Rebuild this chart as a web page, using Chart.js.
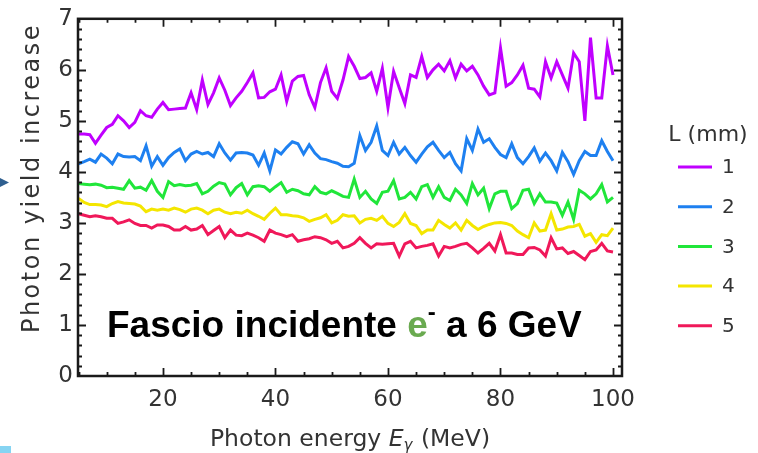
<!DOCTYPE html>
<html>
<head>
<meta charset="utf-8">
<script src="https://cdn.jsdelivr.net/npm/chart.js@4.4.1/dist/chart.umd.min.js"></script>
<style>
  html, body { margin: 0; padding: 0; background: #fff; }
  #wrap { width: 758px; height: 453px; position: relative; }
</style>
</head>
<body>
<div id="wrap"><canvas id="myChart" width="758" height="453"></canvas></div>
<script>
// photon energy (MeV)
var energy = [5, 6, 7, 8, 9, 10, 11, 12, 13, 14, 15, 16, 17, 18, 19, 20, 21, 22, 23, 24,
  25, 26, 27, 28, 29, 30, 31, 32, 33, 34, 35, 36, 37, 38, 39, 40, 41, 42, 43, 44,
  45, 46, 47, 48, 49, 50, 51, 52, 53, 54, 55, 56, 57, 58, 59, 60, 61, 62, 63, 64,
  65, 66, 67, 68, 69, 70, 71, 72, 73, 74, 75, 76, 77, 78, 79, 80, 81, 82, 83, 84,
  85, 86, 87, 88, 89, 90, 91, 92, 93, 94, 95, 96, 97, 98, 99, 100];

// photon yield increase, one array per thickness L
var yieldL1 = [4.74, 4.74, 4.73, 4.56, 4.72, 4.87, 4.93, 5.10, 5.00, 4.87,
  4.97, 5.20, 5.10, 5.07, 5.23, 5.36, 5.22, 5.23, 5.24, 5.25,
  5.55, 5.22, 5.80, 5.32, 5.55, 5.84, 5.60, 5.30, 5.45, 5.58,
  5.75, 5.94, 5.45, 5.46, 5.57, 5.62, 5.90, 5.38, 5.78, 5.87,
  5.89, 5.51, 5.26, 5.75, 6.04, 5.58, 5.44, 5.80, 6.26, 6.07,
  5.83, 5.85, 5.94, 5.58, 6.03, 5.26, 5.97, 5.65, 5.34, 5.90,
  5.85, 6.26, 5.85, 6.00, 6.11, 5.98, 6.18, 5.84, 6.11, 5.98,
  6.07, 5.90, 5.68, 5.51, 5.55, 6.43, 5.68, 5.75, 5.90, 6.09,
  5.64, 5.62, 5.47, 6.16, 5.84, 6.16, 5.90, 5.64, 6.33, 6.16,
  5.00, 6.63, 5.45, 5.45, 6.47, 5.90];
var yieldL2 = [4.16, 4.20, 4.25, 4.19, 4.35, 4.27, 4.16, 4.35, 4.30, 4.29,
  4.30, 4.22, 4.51, 4.11, 4.30, 4.13, 4.28, 4.38, 4.45, 4.22,
  4.35, 4.40, 4.35, 4.38, 4.30, 4.55, 4.37, 4.23, 4.37, 4.38,
  4.37, 4.33, 4.13, 4.37, 4.02, 4.43, 4.35, 4.48, 4.59, 4.55,
  4.35, 4.53, 4.37, 4.26, 4.24, 4.20, 4.17, 4.11, 4.10, 4.17,
  4.71, 4.42, 4.58, 4.90, 4.42, 4.32, 4.58, 4.35, 4.48, 4.32,
  4.19, 4.35, 4.49, 4.58, 4.42, 4.28, 4.38, 4.16, 4.02, 4.65,
  4.42, 4.84, 4.58, 4.65, 4.48, 4.34, 4.28, 4.55, 4.28, 4.16,
  4.30, 4.47, 4.21, 4.37, 4.22, 4.02, 4.38, 4.20, 3.95, 4.22,
  4.40, 4.32, 4.32, 4.61, 4.40, 4.22];
var yieldL3 = [3.77, 3.76, 3.75, 3.76, 3.74, 3.69, 3.70, 3.68, 3.66, 3.83,
  3.68, 3.70, 3.64, 3.83, 3.62, 3.50, 3.81, 3.73, 3.75, 3.73,
  3.74, 3.77, 3.57, 3.62, 3.72, 3.79, 3.76, 3.55, 3.69, 3.77,
  3.55, 3.71, 3.73, 3.71, 3.62, 3.71, 3.79, 3.60, 3.66, 3.63,
  3.57, 3.55, 3.71, 3.60, 3.57, 3.63, 3.58, 3.52, 3.50, 3.86,
  3.50, 3.62, 3.47, 3.38, 3.60, 3.62, 3.83, 3.47, 3.50, 3.60,
  3.47, 3.71, 3.75, 3.50, 3.71, 3.50, 3.44, 3.66, 3.55, 3.38,
  3.77, 3.55, 3.68, 3.28, 3.57, 3.62, 3.62, 3.28, 3.38, 3.64,
  3.66, 3.38, 3.57, 3.41, 3.41, 3.39, 3.15, 3.41, 3.07, 3.64,
  3.57, 3.47, 3.57, 3.75, 3.41, 3.50];
var yieldL4 = [3.48, 3.40, 3.36, 3.36, 3.35, 3.32, 3.38, 3.42, 3.39, 3.38,
  3.37, 3.33, 3.22, 3.27, 3.25, 3.27, 3.25, 3.29, 3.26, 3.21,
  3.27, 3.29, 3.25, 3.18, 3.25, 3.27, 3.21, 3.18, 3.21, 3.19,
  3.25, 3.18, 3.13, 3.07, 3.19, 3.29, 3.16, 3.16, 3.14, 3.13,
  3.10, 3.03, 3.07, 3.10, 3.16, 3.00, 3.05, 3.16, 3.13, 3.14,
  3.00, 3.07, 3.09, 3.05, 3.13, 2.99, 2.93, 3.01, 3.18, 2.99,
  2.95, 2.79, 2.86, 2.86, 3.05, 2.97, 2.90, 3.00, 2.86, 3.05,
  2.95, 2.87, 2.93, 2.97, 3.00, 3.01, 2.99, 2.95, 2.84, 2.77,
  2.71, 3.00, 2.84, 2.86, 3.18, 2.86, 2.88, 2.92, 2.93, 2.97,
  2.74, 2.79, 2.62, 2.77, 2.75, 2.90];
var yieldL5 = [3.18, 3.15, 3.12, 3.14, 3.12, 3.09, 3.09, 2.99, 3.02, 3.06,
  2.99, 2.95, 2.95, 2.90, 2.96, 2.96, 2.93, 2.86, 2.86, 2.93,
  2.86, 2.88, 2.95, 2.77, 2.85, 2.93, 2.71, 2.86, 2.76, 2.75,
  2.80, 2.76, 2.71, 2.64, 2.86, 2.80, 2.77, 2.73, 2.77, 2.64,
  2.67, 2.69, 2.73, 2.71, 2.67, 2.60, 2.64, 2.51, 2.54, 2.60,
  2.71, 2.60, 2.51, 2.59, 2.58, 2.59, 2.60, 2.35, 2.59, 2.64,
  2.51, 2.54, 2.56, 2.59, 2.35, 2.54, 2.51, 2.54, 2.58, 2.60,
  2.51, 2.41, 2.50, 2.60, 2.45, 2.77, 2.41, 2.41, 2.38, 2.38,
  2.51, 2.52, 2.47, 2.35, 2.71, 2.49, 2.51, 2.40, 2.44, 2.36,
  2.28, 2.44, 2.47, 2.60, 2.45, 2.43];

var lengths = ['1', '2', '3', '4', '5'];
var series = [yieldL1, yieldL2, yieldL3, yieldL4, yieldL5];
var lineColors = ['#c000ff', '#1e80f0', '#20e63a', '#f4e600', '#f0185a'];

var xTicks = [20, 40, 60, 80, 100];
var yTicks = [0, 1, 2, 3, 4, 5, 6, 7];

var axisFont = 'DejaVu Sans';
var textColor = '#333333';

function points(values) {
    return values.map(function (v, i) { return { x: energy[i], y: v }; });
}

var datasets = series.map(function (values, i) {
    return {
        label: lengths[i],
        data: points(values),
        borderColor: lineColors[i],
        backgroundColor: lineColors[i],
        borderWidth: 3,
        pointRadius: 0,
        tension: 0,
        fill: false
    };
});

// frame, inward ticks, axis titles, legend and the overlay text
var extrasPlugin = {
    id: 'extras',
    afterDraw: function (chart) {
        var ctx = chart.ctx;
        var a = chart.chartArea;
        var xs = chart.scales.x;
        var ys = chart.scales.y;
        ctx.save();

        // tick marks on all four sides
        ctx.strokeStyle = '#1a1a1a';
        ctx.lineWidth = 1.8;
        ctx.beginPath();
        for (var e = 5; e <= 100; e += 5) {
            var px = Math.round(xs.getPixelForValue(e)) + 0.5;
            var len = (e % 20 === 0) ? 8 : 4;
            ctx.moveTo(px, a.bottom); ctx.lineTo(px, a.bottom - len);
            ctx.moveTo(px, a.top); ctx.lineTo(px, a.top + len);
        }
        for (var k = 1; k < 35; k++) {
            var py = Math.round(ys.getPixelForValue(k / 5)) + 0.5;
            var ylen = (k % 5 === 0) ? 8 : 4;
            ctx.moveTo(a.left, py); ctx.lineTo(a.left + ylen, py);
            ctx.moveTo(a.right, py); ctx.lineTo(a.right - ylen, py);
        }
        ctx.stroke();

        // frame
        ctx.lineWidth = 2.5;
        ctx.strokeRect(a.left, a.top, a.right - a.left, a.bottom - a.top);

        // y axis title
        ctx.save();
        ctx.translate(33, 178);
        ctx.rotate(-Math.PI / 2);
        ctx.fillStyle = textColor;
        ctx.textAlign = 'center';
        ctx.textBaseline = 'middle';
        ctx.font = '24px "' + axisFont + '"';
        ctx.letterSpacing = '2.5px';
        ctx.fillText('Photon yield increase', 0, 0);
        ctx.restore();

        // x axis title: Photon energy E_γ (MeV)
        var p1 = 'Photon energy ', p3 = ' (MeV)';
        var base = 446;
        ctx.fillStyle = textColor;
        ctx.textBaseline = 'alphabetic';
        ctx.textAlign = 'left';
        ctx.font = '23.5px "' + axisFont + '"';
        var w1 = ctx.measureText(p1).width;
        var w3 = ctx.measureText(p3).width;
        ctx.font = 'italic 23.5px "' + axisFont + '"';
        var wE = ctx.measureText('E').width;
        ctx.font = 'italic 15px "' + axisFont + '"';
        var wG = ctx.measureText('γ').width + 1;
        var x0 = (a.left + a.right) / 2 - (w1 + wE + wG + w3) / 2;
        ctx.font = '23.5px "' + axisFont + '"';
        ctx.fillText(p1, x0, base);
        ctx.font = 'italic 23.5px "' + axisFont + '"';
        ctx.fillText('E', x0 + w1, base);
        ctx.font = 'italic 15px "' + axisFont + '"';
        ctx.fillText('γ', x0 + w1 + wE, base + 4);
        ctx.font = '23.5px "' + axisFont + '"';
        ctx.fillText(p3, x0 + w1 + wE + wG, base);

        // legend
        ctx.textAlign = 'center';
        ctx.textBaseline = 'middle';
        ctx.font = '22px "' + axisFont + '"';
        ctx.fillText('L (mm)', 708, 135);
        ctx.textAlign = 'left';
        ctx.font = '20px "' + axisFont + '"';
        chart.data.datasets.forEach(function (ds, i) {
            var ly = 167 + i * 39.7;
            ctx.strokeStyle = ds.borderColor;
            ctx.lineWidth = 3;
            ctx.beginPath();
            ctx.moveTo(678, ly);
            ctx.lineTo(712, ly);
            ctx.stroke();
            ctx.fillStyle = textColor;
            ctx.fillText(ds.label, 722, ly + 1);
        });

        // overlay text
        ctx.textBaseline = 'alphabetic';
        ctx.fillStyle = '#000000';
        ctx.font = 'bold 37px "Liberation Sans"';
        var tx = 107, ty = 337;
        var t1 = 'Fascio incidente ';
        ctx.fillText(t1, tx, ty);
        tx += ctx.measureText(t1).width;
        ctx.fillStyle = '#6aaa50';
        ctx.fillText('e', tx, ty);
        tx += ctx.measureText('e').width;
        ctx.fillStyle = '#000000';
        ctx.font = 'bold 24px "Liberation Sans"';
        ctx.fillText('-', tx, ty - 17);
        tx += ctx.measureText('-').width;
        ctx.font = 'bold 37px "Liberation Sans"';
        ctx.fillText(' a 6 GeV', tx, ty);

        // slide leftovers at the left edge
        ctx.fillStyle = '#2f5f8f';
        ctx.beginPath();
        ctx.moveTo(0, 178); ctx.lineTo(9, 182.5); ctx.lineTo(0, 187);
        ctx.closePath();
        ctx.fill();
        ctx.fillStyle = '#86d4f2';
        ctx.fillRect(0, 446, 11, 7);

        ctx.restore();
    }
};

var ctx = document.getElementById('myChart').getContext('2d');
var chart = new Chart(ctx, {
    type: 'line',
    data: { datasets: datasets },
    options: {
        responsive: false,
        animation: false,
        layout: { padding: { top: 15, right: 136, bottom: 0, left: 0 } },
        plugins: {
            legend: { display: false },
            tooltip: { enabled: false }
        },
        scales: {
            x: {
                type: 'linear',
                min: 4.9,
                max: 101.6,
                afterFit: function (s) { s.height = 77; },
                afterBuildTicks: function (s) { s.ticks = xTicks.map(function (v) { return { value: v }; }); },
                grid: { display: false, drawTicks: false },
                border: { display: false },
                ticks: { font: { family: axisFont, size: 23 }, color: textColor, padding: 10, maxRotation: 0, autoSkip: false }
            },
            y: {
                min: 0,
                max: 7,
                afterFit: function (s) { s.width = 78; },
                afterBuildTicks: function (s) { s.ticks = yTicks.map(function (v) { return { value: v }; }); },
                grid: { display: false, drawTicks: false },
                border: { display: false },
                ticks: { font: { family: axisFont, size: 23 }, color: textColor, padding: 5 }
            }
        }
    },
    plugins: [extrasPlugin]
});
</script>
</body>
</html>
